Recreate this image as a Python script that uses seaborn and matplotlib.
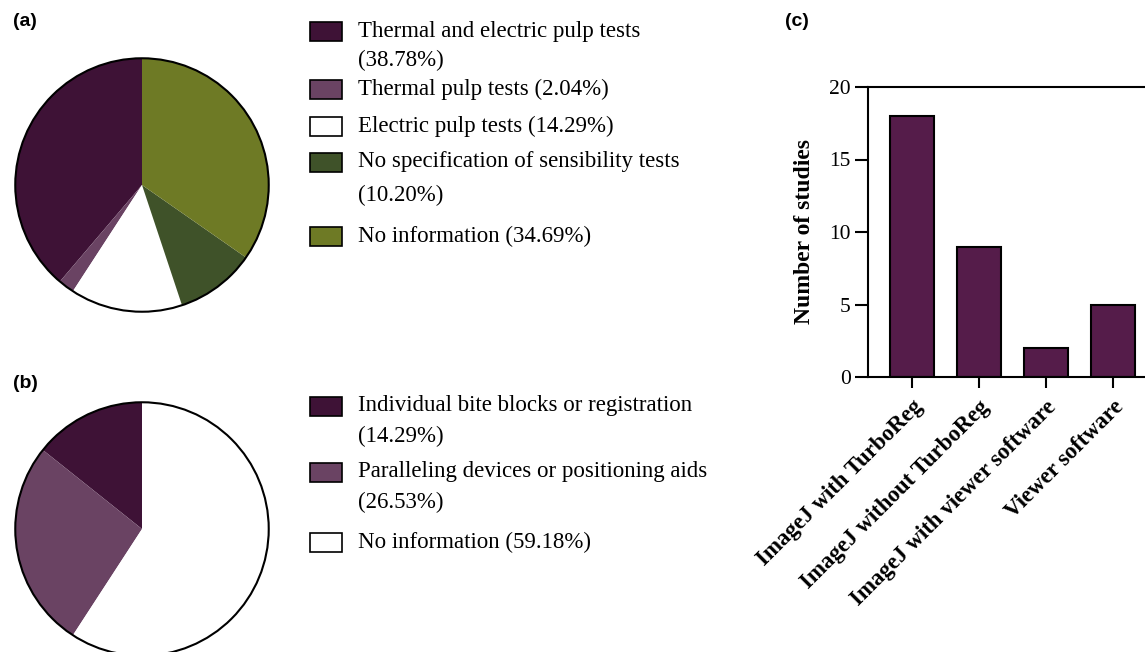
import matplotlib
matplotlib.use("Agg")
import matplotlib.pyplot as plt
import seaborn as sns
import pandas as pd
from matplotlib.patches import Circle, Rectangle

# ---- data -------------------------------------------------------------
test_names = [
    "Thermal and electric pulp tests",
    "Thermal pulp tests",
    "Electric pulp tests",
    "No specification of sensibility tests",
    "No information",
]
test_shares = [38.78, 2.04, 14.29, 10.20, 34.69]
test_colors = ["#3e1236", "#6a4363", "#ffffff", "#3f5229", "#6e7a25"]
test_wrap = [True, False, False, True, False]

fixation_names = [
    "Individual bite blocks or registration",
    "Paralleling devices or positioning aids",
    "No information",
]
fixation_shares = [14.29, 26.53, 59.18]
fixation_colors = ["#3e1236", "#6a4363", "#ffffff"]
fixation_wrap = [True, True, False]

software = [
    "ImageJ with TurboReg",
    "ImageJ without TurboReg",
    "ImageJ with viewer software",
    "Viewer software",
]
studies = [18, 9, 2, 5]
bar_color = "#551c4a"

# ---- style ------------------------------------------------------------
sns.set_style("white")
plt.rcParams["font.family"] = ["Liberation Serif", "DejaVu Serif"]
plt.rcParams["axes.linewidth"] = 1.5
for key in ["text.color", "axes.labelcolor", "xtick.color", "ytick.color",
            "axes.edgecolor"]:
    plt.rcParams[key] = "black"

W, H = 1145, 652
fig = plt.figure(figsize=(W / 100, H / 100), dpi=100)


def px_axes(x0, y0, w, h):
    """Axes placed by pixel box (top-left origin)."""
    return fig.add_axes([x0 / W, (H - y0 - h) / H, w / W, h / H])


def draw_pie(ax, shares, colors):
    ax.pie(shares, colors=colors, startangle=90, counterclock=True,
           radius=1.0, wedgeprops=dict(linewidth=0))
    ax.add_patch(Circle((0, 0), 1.0, fill=False, edgecolor="black",
                        linewidth=1.5))
    ax.set_xlim(-1.01, 1.01)
    ax.set_ylim(-1.01, 1.01)
    ax.set_aspect("auto")
    ax.axis("off")


# ---- pie (a) and pie (b) ---------------------------------------------
ax_a = px_axes(14, 57, 256, 256)
draw_pie(ax_a, test_shares, test_colors)

ax_b = px_axes(14, 401, 256, 256)
draw_pie(ax_b, fixation_shares, fixation_colors)

# ---- hand-laid legends -------------------------------------------------
lax = fig.add_axes([0, 0, 1, 1])
lax.set_xlim(0, W)
lax.set_ylim(H, 0)
lax.axis("off")


def draw_legend(names, shares, colors, wrap, rows, second_gap):
    for name, share, col, wr, y, gap in zip(names, shares, colors, wrap,
                                             rows, second_gap):
        lax.add_patch(Rectangle((310, y - 9.5), 32, 19, facecolor=col,
                                edgecolor="black", linewidth=1.2))
        pct = f"({share:.2f}%)"
        if wr:
            lax.text(358, y, name, fontsize=16.5, va="center", ha="left")
            lax.text(358, y + gap, pct, fontsize=16.5, va="center",
                     ha="left")
        else:
            lax.text(358, y, f"{name} {pct}", fontsize=16.5, va="center",
                     ha="left")


draw_legend(test_names, test_shares, test_colors, test_wrap,
            [31, 89, 126, 162, 236], [29, 0, 0, 33, 0])
draw_legend(fixation_names, fixation_shares, fixation_colors, fixation_wrap,
            [406, 472, 542], [30, 30, 0])

# ---- panel letters -----------------------------------------------------
for letter, x, y in [("(a)", 25, 22), ("(b)", 25, 383), ("(c)", 797, 22)]:
    lax.text(x, y, letter, fontsize=14, fontweight="bold", ha="center",
             va="center", family=["Liberation Sans", "DejaVu Sans"])

# ---- bar chart (c) -----------------------------------------------------
ax_c = px_axes(868, 87, W - 868, 290)
df = pd.DataFrame({"software": software, "studies": studies})
sns.barplot(data=df, x="software", y="studies", ax=ax_c, color=bar_color,
            saturation=1, edgecolor="black", linewidth=1.5, width=0.65)
ax_c.set_xlim(-0.66, 3.48)
ax_c.set_ylim(0, 20)
ax_c.set_yticks([0, 5, 10, 15, 20])
ax_c.set_ylabel("Number of studies", fontsize=17, fontweight="bold",
                labelpad=10)
ax_c.set_xlabel("")
ax_c.spines["right"].set_visible(False)
ax_c.tick_params(axis="y", length=9.5, width=1.5, labelsize=15.5, pad=3,
                 left=True)
ax_c.tick_params(axis="x", length=8, width=1.5, pad=6, bottom=True)
ax_c.set_xticks(range(len(software)))
ax_c.set_xticklabels(software, rotation=45, ha="right",
                     rotation_mode="anchor", fontsize=16.5,
                     fontweight="bold", va="top")
ax_c.patch.set_alpha(0)

fig.savefig("out.png", dpi=100)
